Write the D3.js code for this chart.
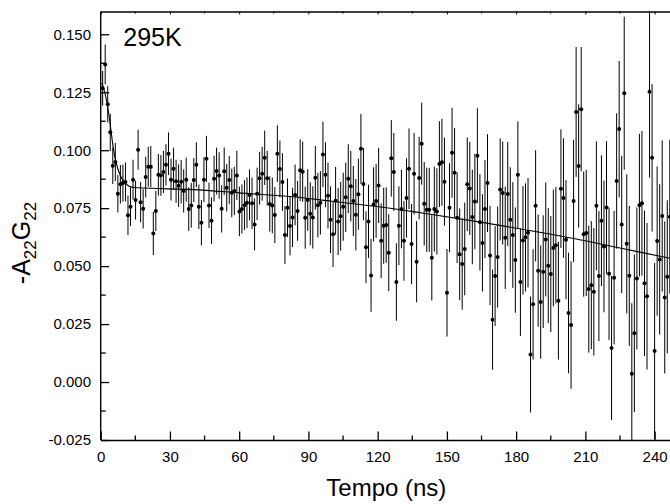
<!DOCTYPE html>
<html>
<head>
<meta charset="utf-8">
<script src="https://cdn.jsdelivr.net/npm/d3@7/dist/d3.min.js"></script>
<style>
  html, body { margin: 0; padding: 0; background: #fff; }
  svg { display: block; }
  text { font-family: "Liberation Sans", Arial, Helvetica, sans-serif; fill: #000; }
</style>
</head>
<body>
<svg id="chart" width="670" height="504"></svg>
<script>
// ---------- data ----------
// measured anisotropy -A22G22, one value per time channel
const values = [
  0.1267,0.1370,0.1198,0.1077,0.0933,0.0949,0.0812,0.0853,0.0858,0.0863,
  0.0719,0.0756,0.0873,0.0785,0.1002,0.0776,0.0747,0.0884,0.0929,0.0929,
  0.0641,0.0738,0.0894,0.0891,0.0906,0.0937,0.0985,0.0873,0.0920,0.0866,
  0.0847,0.0864,0.0824,0.0873,0.0746,0.0762,0.0871,0.0937,0.0756,0.0687,
  0.0873,0.0963,0.0762,0.0696,0.0877,0.0910,0.0891,0.0747,0.0909,0.0838,
  0.0871,0.0816,0.0824,0.0891,0.0736,0.0746,0.0763,0.0773,0.0807,
  0.0771,0.0680,0.0812,0.0879,0.0898,0.0967,0.0879,0.0768,0.0762,0.0720,
  0.0985,0.0919,0.0863,0.0634,0.0752,0.0673,0.0710,0.0807,0.0738,0.0914,
  0.0907,0.0709,0.0785,0.0726,0.0710,0.0881,0.0763,0.0773,0.0982,0.0894,
  0.0804,0.0700,0.0638,0.0782,0.0693,0.0715,0.0756,0.0797,0.0877,0.0845,
  0.0781,0.0722,0.0810,0.1006,0.0854,0.0581,0.0693,0.0460,0.0766,0.0781,
  0.0848,0.0609,0.0674,0.0677,0.0558,0.0965,0.0906,0.0431,0.0674,0.0746,
  0.0609,0.0794,0.0920,0.0595,0.0898,0.0519,0.0880,0.1028,0.0769,0.0743,
  0.0743,
  0.0536,0.0746,0.0736,0.0940,0.0948,0.0864,0.0385,0.0752,0.0989,0.0903,
  0.0709,0.0551,0.0509,0.0574,0.0853,0.0835,0.0712,0.0779,0.0976,0.0689,
  0.0600,0.0746,0.0858,0.0546,0.0269,0.0457,0.0539,0.0831,0.0815,0.0622,
  0.0811,0.0700,0.0634,0.0526,0.0894,0.0431,0.0611,0.0624,0.0644,0.0119,
  0.0335,0.0760,0.0480,0.0345,0.0476,0.0615,0.0502,0.0466,0.0578,0.0590,
  0.0351,0.0834,0.0794,0.0614,0.0298,0.0246,0.0781,0.1165,0.0932,0.1177,
  0.0638,0.0643,0.0401,0.0418,0.0389,0.0760,0.0457,0.0696,0.0585,0.0753,
  0.0467,0.0147,0.0450,0.0867,0.1091,0.0680,0.1246,0.0596,0.0458,0.0036,
  0.0210,0.0447,0.0763,0.0771,0.0426,0.0370,0.1252,0.0967,0.0134,0.0608,
  0.0529,0.0716,0.0365,0.0454,0.0713
];
// error (half-length of each bar)
const errors = [
  0.0075,0.0086,0.0078,0.0080,0.0079,0.0082,0.0081,0.0083,0.0080,0.0084,0.0085,0.0083,0.0086,0.0084,0.0086,
  0.0087,0.0085,0.0088,0.0086,0.0089,0.0093,0.0087,0.0090,0.0088,0.0091,0.0089,0.0092,0.0090,0.0091,0.0093,
  0.0092,0.0094,0.0093,0.0095,0.0094,0.0096,0.0095,0.0097,0.0096,0.0098,0.0097,0.0099,0.0098,0.0100,0.0099,
  0.0101,0.0100,0.0102,0.0103,0.0102,0.0104,0.0105,0.0104,0.0106,0.0107,0.0106,0.0108,0.0109,0.0110,0.0111,
  0.0112,0.0113,0.0114,0.0116,0.0117,0.0118,0.0119,0.0120,0.0121,0.0122,0.0123,0.0124,0.0125,0.0126,0.0127,
  0.0128,0.0131,0.0129,0.0133,0.0130,0.0134,0.0133,0.0136,0.0134,0.0137,0.0139,0.0137,0.0141,0.0140,0.0142,
  0.0144,0.0142,0.0146,0.0145,0.0148,0.0147,0.0150,0.0149,0.0152,0.0151,0.0154,0.0153,0.0151,0.0156,0.0155,
  0.0158,0.0157,0.0160,0.0159,0.0162,0.0161,0.0164,0.0163,0.0166,0.0165,0.0168,0.0167,0.0170,0.0169,0.0172,
  0.0171,0.0174,0.0173,0.0176,0.0175,0.0178,0.0177,0.0180,0.0182,0.0181,0.0184,0.0183,0.0186,0.0185,0.0188,
  0.0190,0.0189,0.0192,0.0194,0.0193,0.0196,0.0198,0.0197,0.0200,0.0202,0.0201,0.0204,0.0206,0.0205,0.0208,
  0.0210,0.0212,0.0211,0.0214,0.0216,0.0215,0.0218,0.0220,0.0222,0.0221,0.0224,0.0226,0.0228,0.0227,0.0230,
  0.0232,0.0234,0.0233,0.0236,0.0250,0.0238,0.0240,0.0242,0.0244,0.0243,0.0246,0.0248,0.0250,0.0252,0.0251,
  0.0254,0.0256,0.0258,0.0257,0.0260,0.0275,0.0264,0.0280,0.0266,0.0268,0.0270,0.0272,0.0274,0.0276,0.0275,
  0.0278,0.0280,0.0282,0.0284,0.0286,0.0285,0.0310,0.0288,0.0292,0.0294,0.0296,0.0330,0.0300,0.0302,0.0304,
  0.0340,0.0306,0.0308,0.0312,0.0314,0.0316,0.0370,0.0318,0.0380,0.0322,0.0324,0.0326,0.0328,0.0330,0.0332
];
// time channels (ns): first channel and channel width
const timeStart = 0.85;
const timeStep = 1.097;

// fitted curve
const fitTime  = [0.5, 2, 3.3, 4.4, 5.3, 6.6, 8.4, 10.5, 12.7, 16, 40, 60, 82, 100, 123, 140, 164, 185, 205, 225, 247, 250];
const fitValue = [0.129, 0.124, 0.117, 0.109, 0.102, 0.095, 0.0893, 0.0860, 0.0843, 0.0838, 0.0830, 0.0816, 0.0800, 0.0780, 0.0753, 0.0728, 0.0691, 0.0655, 0.0619, 0.0578, 0.0533, 0.0527];

const xTicks = [0, 30, 60, 90, 120, 150, 180, 210, 240];
const yTicks = [-0.025, 0.000, 0.025, 0.050, 0.075, 0.100, 0.125, 0.150];
const tempLabel = "295K";

// ---------- drawing ----------
(function () {
const svg = d3.select("#chart");
const W = 670, H = 504;
const padLeft = 100.7, padBottom = 440, padTop = 11.5;

const x = d3.scaleLinear().domain([0, 250]).range([padLeft, padLeft + 250 * 2.308]);
const y = d3.scaleLinear().domain([-0.025, 0.16]).range([padBottom, 11.1]);

const points = values.map((v, i) => ({ t: timeStart + i * timeStep, v, e: errors[i] }));

svg.append("rect").attr("width", W).attr("height", H).attr("fill", "#fff");

svg.append("defs").append("clipPath").attr("id", "plotclip")
  .append("rect").attr("x", padLeft).attr("y", padTop).attr("width", W - padLeft + 20).attr("height", padBottom - padTop);

const plot = svg.append("g").attr("clip-path", "url(#plotclip)");

// error bars
plot.append("g").selectAll("line").data(points).join("line")
  .attr("x1", d => x(d.t)).attr("x2", d => x(d.t))
  .attr("y1", d => y(d.v + d.e)).attr("y2", d => y(d.v - d.e))
  .attr("stroke", "#000").attr("stroke-width", 1);

// fit line
const fitData = fitTime.map((t, i) => ({ t, v: fitValue[i] }));
plot.append("path").datum(fitData)
  .attr("d", d3.line().x(d => x(d.t)).y(d => y(d.v)).curve(d3.curveMonotoneX))
  .attr("fill", "none").attr("stroke", "#000").attr("stroke-width", 1.1);

// points
plot.append("g").selectAll("circle").data(points).join("circle")
  .attr("cx", d => x(d.t)).attr("cy", d => y(d.v)).attr("r", 2).attr("fill", "#000");

// axes
const xMinor = d3.range(15, 250, 30);
const yMinor = d3.range(-0.0125, 0.16, 0.025);
const fmtY = d => d3.format(".3f")(d).replace("\u2212", "-");

// bottom axis
const gB = svg.append("g").attr("transform", `translate(0,${padBottom})`);
gB.call(d3.axisBottom(x).tickValues(xTicks).tickSize(-8.5).tickSizeOuter(0).tickFormat(d3.format("d")));
gB.select(".domain").attr("stroke-width", 1.4);
gB.selectAll(".tick line").attr("stroke-width", 1.3);
gB.selectAll(".tick text").attr("y", 22.3).attr("dy", null)
  .style("font-family", '"Liberation Sans", Arial, sans-serif').style("font-size", "15px").attr("fill", "#000");
gB.selectAll(".minor").data(xMinor).join("line").attr("class", "minor")
  .attr("x1", d => x(d)).attr("x2", d => x(d)).attr("y1", 0).attr("y2", -4.5)
  .attr("stroke", "#000").attr("stroke-width", 1.3);

// top axis
const gT = svg.append("g").attr("transform", `translate(0,${padTop})`);
gT.call(d3.axisTop(x).tickValues(xTicks).tickSize(-3).tickSizeOuter(0).tickFormat(""));
gT.select(".domain").attr("stroke-width", 1.4);
gT.selectAll(".minor").data(xMinor).join("line").attr("class", "minor")
  .attr("x1", d => x(d)).attr("x2", d => x(d)).attr("y1", 0).attr("y2", 2)
  .attr("stroke", "#000").attr("stroke-width", 1);

// left axis
const gL = svg.append("g").attr("transform", `translate(${padLeft},0)`);
gL.call(d3.axisLeft(y).tickValues(yTicks).tickSize(-8.5).tickSizeOuter(0).tickFormat(fmtY));
gL.select(".domain").attr("stroke-width", 1.4)
  .attr("d", `M0,${padTop}V${padBottom}`);
gL.selectAll(".tick line").attr("stroke-width", 1.3);
gL.selectAll(".tick text").attr("x", -9.7)
  .style("font-family", '"Liberation Sans", Arial, sans-serif').style("font-size", "15px").attr("fill", "#000");
gL.selectAll(".minor").data(yMinor).join("line").attr("class", "minor")
  .attr("x1", 0).attr("x2", 5).attr("y1", d => y(d)).attr("y2", d => y(d))
  .attr("stroke", "#000").attr("stroke-width", 1.3);

// labels
svg.append("text").attr("x", 123.3).attr("y", 46).style("font-size", "25px").text(tempLabel);

svg.append("text").attr("x", (padLeft + 670) / 2 + 1).attr("y", 496).attr("text-anchor", "middle")
  .style("font-size", "24px").text("Tempo (ns)");

const yt = svg.append("text").attr("transform", "translate(30,243) rotate(-90)")
  .attr("text-anchor", "middle").style("font-size", "25px");
yt.append("tspan").text("-A");
yt.append("tspan").attr("dy", 6).style("font-size", "17px").text("22");
yt.append("tspan").attr("dy", -6).text("G");
yt.append("tspan").attr("dy", 6).style("font-size", "17px").text("22");
})();
</script>
</body>
</html>
